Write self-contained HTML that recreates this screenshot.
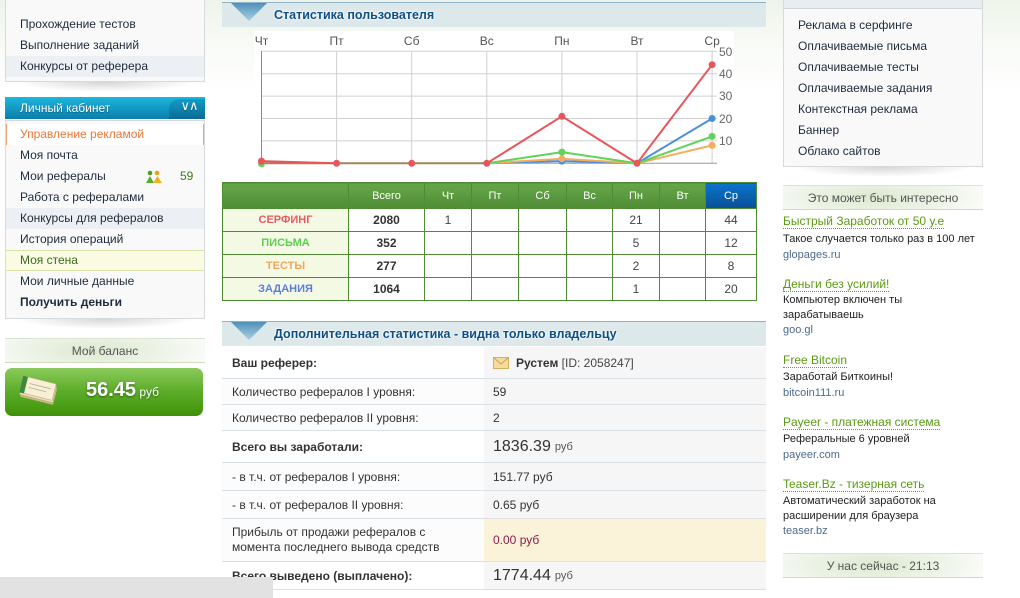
<!DOCTYPE html>
<html><head><meta charset="utf-8">
<style>
*{margin:0;padding:0;box-sizing:border-box}
html,body{width:1020px;height:598px;overflow:hidden}
body{position:relative;font-family:"Liberation Sans",Tahoma,sans-serif;font-size:12px;color:#1e2b3c;
background:linear-gradient(#eef4ea 0px,#f7faf5 40px,#fff 90px)}
.a{position:absolute}
.box{position:absolute;background:#f9f9f9;border:1px solid #d6dadd}
.it{position:absolute;left:0;right:0;height:21px;line-height:21px;padding-left:14px;white-space:nowrap}
.hl{background:#eceff3}
.shadow{position:absolute;height:10px;background:radial-gradient(ellipse at 50% 0%,rgba(0,0,0,0.16),rgba(0,0,0,0) 70%)}
.ghead{position:absolute;height:25px;line-height:25px;text-align:center;color:#555;font-size:12px;
border-top:1px solid #dbe4d2;border-bottom:1px solid #cddcbf;
background:radial-gradient(ellipse 60% 120% at 45% 50%,#dce9d0,#eef4e8 60%,#fbfcfa 100%)}
.bhead{position:absolute;left:222px;width:544px;height:25px;background:#dde8eb;border-top:1px solid #8db3c8}
.bhead span{position:absolute;left:52px;top:0;line-height:24px;font-weight:bold;font-size:12.5px;color:#0e4f86;text-shadow:0 0 2px #fff,0 0 2px #fff}
table.st{position:absolute;left:222px;top:182px;border-collapse:collapse;table-layout:fixed;width:534px}
table.st td,table.st th{border:1px solid #4f8b33;text-align:center;padding:0;overflow:hidden;white-space:nowrap}
table.st th{height:26px;font-weight:normal;color:#fff;font-size:11px;background:linear-gradient(#66a64b,#4f8c33)}
table.st th.cur{background:linear-gradient(#0a74cc,#0a4f96)}
table.st td{height:23px;font-size:12px;color:#444;background:#fff}
table.st td.lb{background:#f4f9e4;font-weight:bold;font-size:11px;text-shadow:0 0 2px #fff}
table.st td.tot{font-weight:bold;color:#333}
.row{position:absolute;left:222px;width:544px;border-bottom:1px solid #d9e0e6}
.row .l{position:absolute;left:0;top:0;bottom:0;width:262px;background:#fcfcfc;padding-left:10px;display:flex;align-items:center;color:#333}
.row .v{position:absolute;left:262px;top:0;bottom:0;right:0;background:#f6f6f6;padding-left:9px;display:flex;align-items:center;color:#333}
.b{font-weight:bold}
.big{font-size:16px;margin-right:4px}
.ad{position:absolute;left:783px;white-space:nowrap}
.at{font-size:12px;color:#5a9a12;border-bottom:1px dotted #6aa020;line-height:14px}
.ad div{position:absolute;left:0;white-space:nowrap}
.ds{font-size:11px;color:#222}
.ur{font-size:11px;color:#4d6a8e}
</style></head><body>

<!-- LEFT: top menu box -->
<div class="box" style="left:5px;top:-10px;width:200px;height:92px">
  <div class="it" style="top:23px">Прохождение тестов</div>
  <div class="it" style="top:44px">Выполнение заданий</div>
  <div class="it hl" style="top:65px">Конкурсы от реферера</div>
</div>
<div class="shadow" style="left:15px;top:82px;width:180px"></div>

<!-- cabinet header -->
<div class="a" style="left:5px;top:97px;width:200px;height:22px;background:linear-gradient(#1cb6de,#0c7dab);color:#fff;line-height:22px;padding-left:15px;text-shadow:0 1px 1px rgba(0,0,0,.35)">Личный кабинет
  <div class="a" style="right:0;top:2px;width:36px;height:20px;border-radius:10px 0 0 0;background:linear-gradient(#129cc6,#0a6a94);font-size:13px;line-height:14px;text-align:center;padding-left:4px;letter-spacing:-1px">&#8744;&#8743;</div>
</div>
<div class="box" style="left:5px;top:120px;width:200px;height:199px">
  <div class="it" style="top:3px;background:#fff;color:#e8783a;border-left:1px solid #eba477;border-right:1px solid #eba477;padding-left:13px">Управление рекламой</div>
  <div class="it" style="top:24px">Моя почта</div>
  <div class="it" style="top:45px">Мои рефералы
    <svg class="a" style="left:140px;top:4px" width="16" height="14" viewBox="0 0 16 14">
      <circle cx="4" cy="3" r="2.3" fill="#4a9a2a"/><polygon points="0,13 8,13 4,6" fill="#5aaa30"/>
      <circle cx="11" cy="3" r="2.3" fill="#e8a020"/><polygon points="7,13 16,13 11.5,6" fill="#f0b020"/>
    </svg>
    <span class="a" style="left:174px;color:#3a7a1a">59</span></div>
  <div class="it" style="top:66px">Работа с рефералами</div>
  <div class="it hl" style="top:87px">Конкурсы для рефералов</div>
  <div class="it" style="top:108px">История операций</div>
  <div class="it" style="top:129px;background:#fafbe2;border-top:1px solid #d9e2a8;border-bottom:1px solid #d9e2a8;line-height:19px;color:#3a6a1e">Моя стена</div>
  <div class="it" style="top:150px">Мои личные данные</div>
  <div class="it b" style="top:171px">Получить деньги</div>
</div>
<div class="shadow" style="left:15px;top:319px;width:180px"></div>

<!-- balance -->
<div class="ghead" style="left:5px;top:338px;width:200px">Мой баланс</div>
<div class="a" style="left:5px;top:368px;width:198px;height:48px;border-radius:7px;background:linear-gradient(#8bcb5d 0%,#5fae2c 45%,#3f9308 100%)">
  <svg class="a" style="left:11px;top:8px" width="46" height="30" viewBox="0 0 46 30">
    <g transform="rotate(14 23 15)">
      <rect x="6" y="8" width="34" height="17" rx="1" fill="#c9b98a"/>
      <rect x="5" y="6" width="34" height="17" rx="1" fill="#efe4c0" stroke="#b8a878" stroke-width=".6"/>
      <rect x="4" y="4" width="34" height="17" rx="1" fill="#f7efd6" stroke="#b8a878" stroke-width=".6"/>
      <rect x="4" y="4" width="5" height="17" fill="#3e8a3a"/>
      <line x1="12" y1="10" x2="34" y2="10" stroke="#b9ad8a" stroke-width=".8"/>
      <line x1="12" y1="14" x2="30" y2="14" stroke="#b9ad8a" stroke-width=".8"/>
    </g>
  </svg>
  <div class="a" style="left:81px;top:11px;color:#fff;text-shadow:0 1px 2px rgba(0,0,0,.45);white-space:nowrap"><span style="font-size:20px;font-weight:bold">56.45</span> <span style="font-size:12px">руб</span></div>
</div>

<!-- CENTER header 1 -->
<div class="bhead" style="top:2px"><span>Статистика пользователя</span></div>
<div class="bhead" style="top:321px"><span>Дополнительная статистика - видна только владельцу</span></div>
<svg class="a" style="left:0;top:0" width="1020" height="598" viewBox="0 0 1020 598">
  <defs><linearGradient id="tg" x1="0" y1="0" x2="0" y2="1"><stop offset="0" stop-color="#4f90b8"/><stop offset="1" stop-color="#a9d2e4"/></linearGradient></defs>
  <polygon points="231,3 267,3 249,21" fill="url(#tg)"/>
  <polygon points="231,322 267,322 249,340" fill="url(#tg)"/>
  <rect x="254" y="31" width="480" height="141" fill="#fff"/>
  <g stroke="#d0d0d0" stroke-width="1">
    <line x1="261.5" y1="51.3" x2="717" y2="51.3"/><line x1="261.5" y1="73.7" x2="717" y2="73.7"/>
    <line x1="261.5" y1="96.1" x2="717" y2="96.1"/><line x1="261.5" y1="118.5" x2="717" y2="118.5"/>
    <line x1="261.5" y1="140.9" x2="717" y2="140.9"/>
    <line x1="336.6" y1="51" x2="336.6" y2="163"/><line x1="411.7" y1="51" x2="411.7" y2="163"/>
    <line x1="486.8" y1="51" x2="486.8" y2="163"/><line x1="561.9" y1="51" x2="561.9" y2="163"/>
    <line x1="637" y1="51" x2="637" y2="163"/><line x1="712.1" y1="51" x2="712.1" y2="163"/>
  </g>
  <line x1="261.5" y1="51" x2="261.5" y2="164" stroke="#8a8a8a"/>
  <line x1="261" y1="163.3" x2="717" y2="163.3" stroke="#9a9a9a"/>
  <g font-family="Liberation Sans, sans-serif" font-size="12" fill="#555" text-anchor="middle">
    <text x="261.5" y="45">Чт</text><text x="336.6" y="45">Пт</text><text x="411.7" y="45">Сб</text>
    <text x="486.8" y="45">Вс</text><text x="561.9" y="45">Пн</text><text x="637" y="45">Вт</text><text x="712.1" y="45">Ср</text>
  </g>
  <g font-family="Liberation Sans, sans-serif" font-size="12" fill="#666">
    <text x="719" y="56">50</text><text x="719" y="78">40</text><text x="719" y="100">30</text>
    <text x="719" y="123">20</text><text x="719" y="145">10</text>
  </g>
  <g fill="none" stroke-width="2" stroke-linejoin="round">
    <polyline stroke="#4a8fdc" points="486.8,163.3 561.9,161.1 637,163.3 712.1,118.5"/>
    <polyline stroke="#f5ad5c" points="486.8,163.3 561.9,158.8 637,163.3 712.1,145.4"/>
    <polyline stroke="#5fd35a" points="486.8,163.3 561.9,152.1 637,163.3 712.1,136.4"/>
    <line x1="261.5" y1="163.3" x2="486.8" y2="163.3" stroke="#a3835f"/>
    <polyline stroke="#e8555a" points="261.5,161.1 336.6,163.3"/>
    <polyline stroke="#e8555a" points="486.8,163.3 561.9,116.3 637,163.3 712.1,64.7"/>
  </g>
  <g>
    <circle cx="561.9" cy="161.1" r="3.5" fill="#4a8fdc"/><circle cx="712.1" cy="118.5" r="3.5" fill="#4a8fdc"/>
    <circle cx="561.9" cy="158.8" r="3.5" fill="#f5ad5c"/><circle cx="712.1" cy="145.4" r="3.5" fill="#f5ad5c"/>
    <circle cx="261.5" cy="163.8" r="3.5" fill="#5fd35a"/>
    <circle cx="561.9" cy="152.1" r="3.5" fill="#5fd35a"/><circle cx="712.1" cy="136.4" r="3.5" fill="#5fd35a"/>
    <circle cx="261.5" cy="161.1" r="3.5" fill="#e8555a"/><circle cx="336.6" cy="163.3" r="3.5" fill="#e8555a"/>
    <circle cx="411.7" cy="163.3" r="3.5" fill="#e8555a"/><circle cx="486.8" cy="163.3" r="3.5" fill="#e8555a"/>
    <circle cx="561.9" cy="116.3" r="3.5" fill="#e8555a"/><circle cx="637" cy="163.3" r="3.5" fill="#e8555a"/>
    <circle cx="712.1" cy="64.7" r="3.5" fill="#e8555a"/>
  </g>
</svg>

<!-- stats table -->
<table class="st">
<colgroup><col style="width:126px"><col style="width:76px"><col style="width:47px"><col style="width:47px"><col style="width:48px"><col style="width:46px"><col style="width:47px"><col style="width:46px"><col style="width:51px"></colgroup>
<tr><th></th><th>Всего</th><th>Чт</th><th>Пт</th><th>Сб</th><th>Вс</th><th>Пн</th><th>Вт</th><th class="cur">Ср</th></tr>
<tr><td class="lb" style="color:#e85a5a">СЕРФИНГ</td><td class="tot">2080</td><td>1</td><td></td><td></td><td></td><td>21</td><td></td><td>44</td></tr>
<tr><td class="lb" style="color:#5ccf48">ПИСЬМА</td><td class="tot">352</td><td></td><td></td><td></td><td></td><td>5</td><td></td><td>12</td></tr>
<tr><td class="lb" style="color:#f4a452">ТЕСТЫ</td><td class="tot">277</td><td></td><td></td><td></td><td></td><td>2</td><td></td><td>8</td></tr>
<tr><td class="lb" style="color:#5a7ed0">ЗАДАНИЯ</td><td class="tot">1064</td><td></td><td></td><td></td><td></td><td>1</td><td></td><td>20</td></tr>
</table>

<div class="row" style="top:347px;height:32px"><div class="l b" style="background:#fff">Ваш реферер:</div><div class="v">
  <svg width="16" height="12" viewBox="0 0 16 12" style="margin-right:7px"><rect x=".5" y=".5" width="15" height="11" fill="#f5dc9c" stroke="#d4b060"/><polyline points=".5,.5 8,7 15.5,.5" fill="none" stroke="#c9a050"/></svg>
  <span class="b" style="color:#333">Рустем</span>&nbsp;<span style="color:#444">[ID: 2058247]</span></div></div>
<div class="row" style="top:379px;height:26px"><div class="l">Количество рефералов I уровня:</div><div class="v">59</div></div>
<div class="row" style="top:405px;height:26px"><div class="l">Количество рефералов II уровня:</div><div class="v">2</div></div>
<div class="row" style="top:431px;height:32px"><div class="l b" style="background:#fff">Всего вы заработали:</div><div class="v"><span class="big">1836.39</span><span style="font-size:11px;color:#555">руб</span></div></div>
<div class="row" style="top:463px;height:28px"><div class="l">- в т.ч. от рефералов I уровня:</div><div class="v">151.77 руб</div></div>
<div class="row" style="top:491px;height:28px"><div class="l">- в т.ч. от рефералов II уровня:</div><div class="v">0.65 руб</div></div>
<div class="row" style="top:519px;height:43px"><div class="l" style="line-height:15px">Прибыль от продажи рефералов с<br>момента последнего вывода средств</div><div class="v" style="background:#fbf2da;color:#8a1d4e">0.00 руб</div></div>
<div class="row" style="top:562px;height:28px"><div class="l b" style="background:#fff">Всего выведено (выплачено):</div><div class="v"><span class="big">1774.44</span><span style="font-size:11px;color:#555">руб</span></div></div>

<!-- gray bottom bar -->
<div class="a" style="left:0;top:577px;width:273px;height:21px;background:#e2e2e2"></div>

<!-- RIGHT sidebar -->
<div class="box" style="left:783px;top:-20px;width:200px;height:187px">
  <div class="a" style="left:0;right:0;top:0;height:28px;background:#e9edf0;border-bottom:1px solid #cfd6dc"></div>
  <div class="it" style="top:34px">Реклама в серфинге</div>
  <div class="it" style="top:55px">Оплачиваемые письма</div>
  <div class="it" style="top:76px">Оплачиваемые тесты</div>
  <div class="it" style="top:97px">Оплачиваемые задания</div>
  <div class="it" style="top:118px">Контекстная реклама</div>
  <div class="it" style="top:139px">Баннер</div>
  <div class="it" style="top:160px">Облако сайтов</div>
</div>
<div class="shadow" style="left:793px;top:167px;width:180px"></div>

<div class="ghead" style="left:783px;top:185px;width:200px">Это может быть интересно</div>

<div class="ad" style="top:214px"><div style="top:0"><span class="at">Быстрый Заработок от 50 у.е</span></div>
  <div class="ds" style="top:19px">Такое случается только раз в 100 лет</div><div class="ur" style="top:35px">glopages.ru</div></div>
<div class="ad" style="top:277px"><div style="top:0"><span class="at">Деньги без усилий!</span></div>
  <div class="ds" style="top:17px">Компьютер включен ты</div><div class="ds" style="top:32px">зарабатываешь</div><div class="ur" style="top:47px">goo.gl</div></div>
<div class="ad" style="top:353px"><div style="top:0"><span class="at">Free Bitcoin</span></div>
  <div class="ds" style="top:18px">Заработай Биткоины!</div><div class="ur" style="top:34px">bitcoin111.ru</div></div>
<div class="ad" style="top:415px"><div style="top:0"><span class="at">Payeer - платежная система</span></div>
  <div class="ds" style="top:18px">Реферальные 6 уровней</div><div class="ur" style="top:34px">payeer.com</div></div>
<div class="ad" style="top:477px"><div style="top:0"><span class="at">Teaser.Bz - тизерная сеть</span></div>
  <div class="ds" style="top:18px">Автоматический заработок на</div><div class="ds" style="top:33px">расширении для браузера</div><div class="ur" style="top:48px">teaser.bz</div></div>

<div class="ghead" style="left:783px;top:553px;width:200px">У нас сейчас - 21:13</div>

</body></html>
